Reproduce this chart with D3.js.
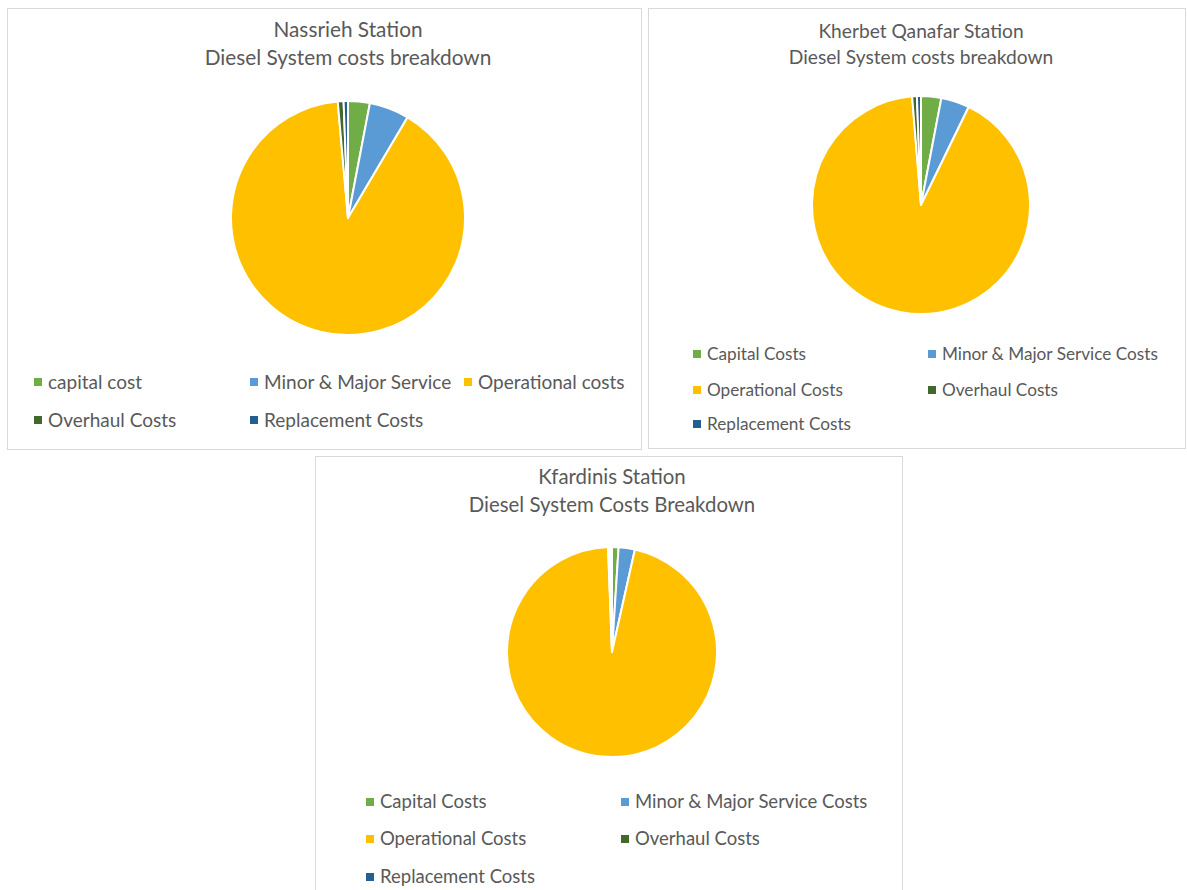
<!DOCTYPE html>
<html><head><meta charset="utf-8">
<script src="https://cdn.jsdelivr.net/npm/d3@7"></script>
<style>
html,body{margin:0;padding:0;background:#fff;}
svg{display:block;}
text{font-family:Lato,"Open Sans",sans-serif;fill:#595959;}
</style></head>
<body><svg id="c" width="1187" height="890"></svg>
<script>
// ---- data ----
const titlesNassrieh = ["Nassrieh Station", "Diesel System costs breakdown"];
const titlesKherbet = ["Kherbet Qanafar Station", "Diesel System costs breakdown"];
const titlesKfardinis = ["Kfardinis Station", "Diesel System Costs Breakdown"];

const categoriesNassrieh = ["capital cost", "Minor & Major Service", "Operational costs", "Overhaul Costs", "Replacement Costs"];
const categoriesKherbet = ["Capital Costs", "Minor & Major Service Costs", "Operational Costs", "Overhaul Costs", "Replacement Costs"];
const categoriesKfardinis = ["Capital Costs", "Minor & Major Service Costs", "Operational Costs", "Overhaul Costs", "Replacement Costs"];

// shares in percent
const valuesNassrieh = [3.0, 5.5, 90.1, 0.8, 0.6];
const valuesKherbet = [3.0, 4.2, 91.5, 0.7, 0.6];
const valuesKfardinis = [1.0, 2.5, 95.9, 0.3, 0.3];

const colors = ["#70AD47", "#5B9BD5", "#FFC000", "#43682B", "#255E91"];

// ---- layout ----
const panels = [
  {titles: titlesNassrieh, cats: categoriesNassrieh, vals: valuesNassrieh,
   box: [7, 8, 634, 441], cx: 348, cy: 218, r: 117, ty: [37, 65], tfs: 20.8, lfs: 19,
   legendCols: [38, 254, 468], legendRows: [382, 420],
   legendPos: [[0,0],[1,0],[2,0],[0,1],[1,1]]},
  {titles: titlesKherbet, cats: categoriesKherbet, vals: valuesKherbet,
   box: [648, 8, 537, 440], cx: 921, cy: 205, r: 109, ty: [38, 64], tfs: 19.2, lfs: 17.2,
   legendCols: [697, 932], legendRows: [354, 390, 424],
   legendPos: [[0,0],[1,0],[0,1],[1,1],[0,2]]},
  {titles: titlesKfardinis, cats: categoriesKfardinis, vals: valuesKfardinis,
   box: [315, 456, 587, 450], cx: 612, cy: 652, r: 105, ty: [484, 512], tfs: 20.4, lfs: 18.5,
   legendCols: [370, 625], legendRows: [802, 839, 877],
   legendPos: [[0,0],[1,0],[0,1],[1,1],[0,2]]}
];

const svg = d3.select("#c");

panels.forEach(p => {
  const g = svg.append("g");
  g.append("rect").attr("x", p.box[0] + 0.5).attr("y", p.box[1] + 0.5)
    .attr("width", p.box[2]).attr("height", p.box[3])
    .attr("fill", "#fff").attr("stroke", "#d9d9d9").attr("stroke-width", 1);

  p.titles.forEach((t, i) => {
    g.append("text").attr("x", p.cx).attr("y", p.ty[i])
      .attr("text-anchor", "middle").attr("font-size", p.tfs).text(t);
  });

  const data = p.cats.map((c, i) => ({cat: c, val: p.vals[i], idx: i}));
  const pie = d3.pie().value(d => d.val).sort(null);
  const arc = d3.arc().innerRadius(0).outerRadius(p.r);
  g.append("g").attr("transform", `translate(${p.cx},${p.cy})`)
    .selectAll("path").data(pie(data)).join("path")
    .attr("d", arc).attr("fill", d => colors[d.data.idx])
    .attr("stroke", "#fff").attr("stroke-width", 2).attr("stroke-linejoin", "round");

  const lg = g.append("g");
  data.forEach((d, i) => {
    const [ci, ri] = p.legendPos[i];
    const x = p.legendCols[ci], y = p.legendRows[ri];
    lg.append("rect").attr("x", x - 4).attr("y", y - 4).attr("width", 8).attr("height", 8)
      .attr("fill", colors[d.idx]);
    lg.append("text").attr("x", x + 10).attr("y", y).attr("dy", "0.35em")
      .attr("font-size", p.lfs).text(d.cat);
  });
});
</script></body></html>
